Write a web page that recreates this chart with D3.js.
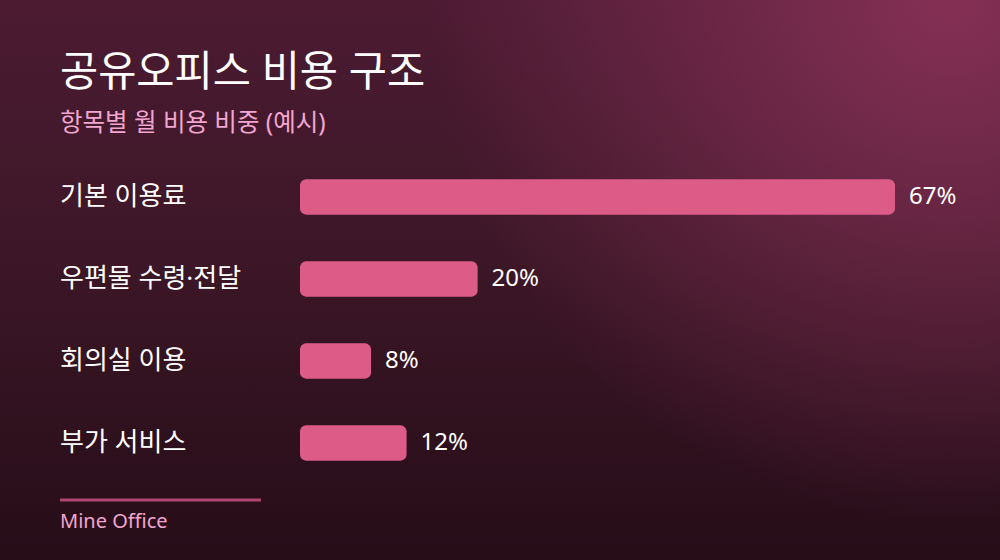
<!DOCTYPE html>
<html><head><meta charset="utf-8">
<script src="https://cdn.jsdelivr.net/npm/d3@7"></script>
<style>html,body{margin:0;padding:0;background:#2a0f1b;}svg{display:block;}</style>
</head><body>
<svg id="chart" width="1000" height="560"></svg>
<script>
const categories = ["기본 이용료", "우편물 수령·전달", "회의실 이용", "부가 서비스"];
const values = [67, 20, 8, 12];
const valueLabels = ["67%", "20%", "8%", "12%"];
const title = "공유오피스 비용 구조";
const subtitle = "항목별 월 비용 비중 (예시)";
const source = "Mine Office";

const W = 1000, H = 560;
const font = "'Noto Sans', 'Noto Sans CJK KR', sans-serif";
const svg = d3.select("#chart");
const defs = svg.append("defs");
const lg = defs.append("linearGradient").attr("id","bg").attr("x1",0).attr("y1",0).attr("x2",0).attr("y2",1);
lg.append("stop").attr("offset","0%").attr("stop-color","#4c1b32");
lg.append("stop").attr("offset","45%").attr("stop-color","#3d1727");
lg.append("stop").attr("offset","100%").attr("stop-color","#260d18");
const rg = defs.append("radialGradient").attr("id","glow").attr("gradientUnits","userSpaceOnUse")
  .attr("cx",950).attr("cy",0).attr("r",520);
rg.append("stop").attr("offset","0%").attr("stop-color","#873157").attr("stop-opacity",0.95);
rg.append("stop").attr("offset","100%").attr("stop-color","#873157").attr("stop-opacity",0);
svg.append("rect").attr("width",W).attr("height",H).attr("fill","url(#bg)");
svg.append("rect").attr("width",W).attr("height",H).attr("fill","url(#glow)");

svg.append("text").attr("x",60).attr("y",86).attr("fill","#ffffff").attr("font-family",font)
  .attr("font-size",41.5).attr("font-weight",400).text(title);
svg.append("text").attr("x",60).attr("y",131).attr("fill","#f2a6cf").attr("font-family",font)
  .attr("font-size",24.5).text(subtitle);

const x = d3.scaleLinear().domain([0, 67]).range([300, 895]);
const y = d3.scaleBand().domain(categories).range([156, 484]).paddingInner(0.57).paddingOuter(0.285);

const g = svg.append("g");
g.selectAll("rect.bar").data(values).join("rect").attr("class","bar")
  .attr("x", x(0)).attr("y",(d,i)=>y(categories[i]))
  .attr("width", d=>x(d)-x(0)).attr("height", y.bandwidth())
  .attr("rx",6).attr("fill","#dc5c87");
g.selectAll("text.cat").data(categories).join("text").attr("class","cat")
  .attr("x",60).attr("y",d=>y(d)+y.bandwidth()/2).attr("dy","0.3em")
  .attr("fill","#ffffff").attr("font-family",font).attr("font-size",26).text(d=>d);
g.selectAll("text.val").data(values).join("text").attr("class","val")
  .attr("x",d=>x(d)+14).attr("y",(d,i)=>y(categories[i])+y.bandwidth()/2).attr("dy","0.3em")
  .attr("fill","#ffffff").attr("font-family",font).attr("font-size",24).text((d,i)=>valueLabels[i]);

svg.append("line").attr("x1",60).attr("x2",261).attr("y1",500).attr("y2",500)
  .attr("stroke","#b0466f").attr("stroke-width",3);
svg.append("text").attr("x",60).attr("y",528).attr("fill","#f2a6cf").attr("font-family",font)
  .attr("font-size",20).text(source);
</script>
</body></html>
